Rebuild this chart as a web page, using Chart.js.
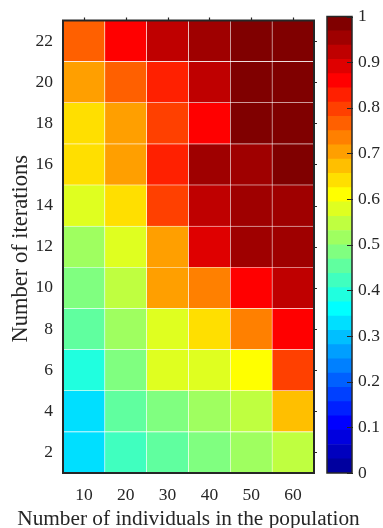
<!DOCTYPE html>
<html><head><meta charset="utf-8">
<script src="https://cdn.jsdelivr.net/npm/chart.js@4.4.0/dist/chart.umd.min.js"></script>
<style>
html,body{margin:0;padding:0;background:#fff;width:383px;height:528px;overflow:hidden}
#main{position:absolute;left:0;top:0}
#cbar{position:absolute;left:318px;top:0}
</style></head><body>
<canvas id="main" width="383" height="528"></canvas>
<canvas id="cbar" width="65" height="528"></canvas>
<script>
// ---- data ----
const populations = [10, 20, 30, 40, 50, 60];
const iterations = [2, 4, 6, 8, 10, 12, 14, 16, 18, 20, 22];
const iter2  = [0.33, 0.42, 0.45, 0.48, 0.52, 0.55];
const iter4  = [0.33, 0.45, 0.48, 0.52, 0.55, 0.67];
const iter6  = [0.39, 0.48, 0.58, 0.58, 0.61, 0.80];
const iter8  = [0.45, 0.52, 0.58, 0.64, 0.73, 0.86];
const iter10 = [0.48, 0.55, 0.70, 0.73, 0.86, 0.92];
const iter12 = [0.52, 0.58, 0.70, 0.89, 0.95, 0.95];
const iter14 = [0.58, 0.64, 0.80, 0.92, 0.95, 0.95];
const iter16 = [0.64, 0.70, 0.83, 0.95, 0.95, 0.98];
const iter18 = [0.64, 0.70, 0.80, 0.86, 0.98, 0.98];
const iter20 = [0.70, 0.77, 0.83, 0.92, 0.98, 0.98];
const iter22 = [0.77, 0.86, 0.92, 0.95, 0.98, 0.98];
const colorbarTicks = [0, 0.1, 0.2, 0.3, 0.4, 0.5, 0.6, 0.7, 0.8, 0.9, 1];
const colorLevels = 32;
const xTitle = 'Number of individuals in the population';
const yTitle = 'Number of iterations';

const rowValues = [iter2, iter4, iter6, iter8, iter10, iter12, iter14, iter16, iter18, iter20, iter22];

// MATLAB-style jet colormap with m levels
function jetMap(m) {
  const n = Math.ceil(m / 4);
  const u = [];
  for (let i = 1; i <= n; i++) u.push(i / n);
  for (let i = 1; i <= n - 1; i++) u.push(1);
  for (let i = n; i >= 1; i--) u.push(i / n);
  const g0 = Math.ceil(n / 2) - (m % 4 === 1 ? 1 : 0);
  const cols = [];
  for (let i = 0; i < m; i++) cols.push([0, 0, 0]);
  for (let k = 0; k < u.length; k++) {
    const g = g0 + k + 1, r = g + n, b = g - n;
    if (g >= 1 && g <= m) cols[g - 1][1] = u[k];
    if (r >= 1 && r <= m) cols[r - 1][0] = u[k];
    if (b >= 1 && b <= m) cols[b - 1][2] = u[k];
  }
  return cols.map(c => `rgb(${Math.round(c[0]*255)},${Math.round(c[1]*255)},${Math.round(c[2]*255)})`);
}
const jet = jetMap(colorLevels);
function colorFor(v) {
  return jet[Math.max(0, Math.min(colorLevels - 1, Math.floor(v * colorLevels)))];
}

const FONT = '"Liberation Serif", "Times New Roman", serif';
const TXT = '#262626';
Chart.defaults.font.family = FONT;

const frameMain = {
  id: 'frameMain',
  afterDraw(chart) {
    const {ctx, chartArea: a, scales} = chart;
    ctx.save();
    ctx.strokeStyle = TXT;
    ctx.lineWidth = 1.2;
    ctx.beginPath();
    populations.forEach((p, i) => {
      const x = Math.round(scales.x.getPixelForValue(i)) + 0.5;
      ctx.moveTo(x, a.top); ctx.lineTo(x, a.top - 3);
    });
    iterations.forEach(v => {
      const y = Math.round(scales.y.getPixelForValue(v)) + 0.5;
      ctx.moveTo(a.right, y); ctx.lineTo(a.right + 3, y);
    });
    ctx.stroke();
    ctx.lineWidth = 2;
    ctx.strokeRect(a.left, a.top, a.right - a.left, a.bottom - a.top);
    // axis titles
    ctx.fillStyle = TXT;
    ctx.textAlign = 'center';
    ctx.textBaseline = 'alphabetic';
    ctx.font = '21.3px ' + FONT;
    ctx.fillText(xTitle, (a.left + a.right) / 2, 525);
    ctx.translate(27, (a.top + a.bottom) / 2 + 2);
    ctx.rotate(-Math.PI / 2);
    ctx.font = '22.5px ' + FONT;
    ctx.fillText(yTitle, 0, 0);
    ctx.restore();
  }
};

const frameBar = {
  id: 'frameBar',
  afterDraw(chart) {
    const {ctx, chartArea: a, scales} = chart;
    ctx.save();
    ctx.strokeStyle = TXT;
    ctx.lineWidth = 1.2;
    ctx.beginPath();
    colorbarTicks.forEach(v => {
      const y = Math.round(scales.y.getPixelForValue(v)) + 0.5;
      ctx.moveTo(a.right - 5, y); ctx.lineTo(a.right + 1, y);
    });
    ctx.stroke();
    ctx.lineWidth = 1.5;
    ctx.strokeRect(a.left, a.top, a.right - a.left, a.bottom - a.top);
    ctx.restore();
  }
};

new Chart(document.getElementById('main'), {
  type: 'bar',
  data: {
    labels: populations.map(String),
    datasets: iterations.map((it, r) => ({
      data: populations.map(() => [it - 1, it + 1]),
      backgroundColor: rowValues[r].map(colorFor),
      borderColor: 'rgba(255,255,255,0.85)',
      borderWidth: 0.6,
      borderSkipped: false,
      barPercentage: 1,
      categoryPercentage: 1,
      grouped: false
    }))
  },
  options: {
    responsive: false,
    animation: false,
    devicePixelRatio: 1,
    layout: {padding: {top: 15, right: 69, left: 0, bottom: 0}},
    plugins: {legend: {display: false}, tooltip: {enabled: false}},
    scales: {
      x: {
        type: 'category',
        offset: true,
        grid: {display: false, drawTicks: false},
        border: {display: false},
        ticks: {font: {size: 17.5}, color: TXT, padding: 12, maxRotation: 0},
        afterFit(s) { s.height = 55; }
      },
      y: {
        type: 'linear',
        min: 1, max: 23,
        afterBuildTicks(s) { s.ticks = iterations.map(v => ({value: v})); },
        grid: {display: false, drawTicks: false},
        border: {display: false},
        ticks: {font: {size: 17.5}, color: TXT, padding: 10},
        afterFit(s) { s.width = 63; }
      }
    }
  },
  plugins: [frameMain]
});

const levels = Array.from({length: colorLevels}, (_, i) => i);
new Chart(document.getElementById('cbar'), {
  type: 'bar',
  data: {
    labels: ['c'],
    datasets: levels.map(i => ({
      data: [[i / colorLevels, (i + 1) / colorLevels]],
      backgroundColor: jet[i],
      borderWidth: 0,
      barPercentage: 1,
      categoryPercentage: 1,
      grouped: false
    }))
  },
  options: {
    responsive: false,
    animation: false,
    devicePixelRatio: 1,
    layout: {padding: {top: 15, left: 9, right: 0, bottom: 55}},
    plugins: {legend: {display: false}, tooltip: {enabled: false}},
    scales: {
      x: {display: false, offset: true},
      y: {
        position: 'right',
        min: 0, max: 1,
        afterBuildTicks(s) { s.ticks = colorbarTicks.map(v => ({value: v})); },
        grid: {display: false, drawTicks: false},
        border: {display: false},
        ticks: {font: {size: 17.5}, color: TXT, padding: 6, callback: v => String(v)},
        afterFit(s) { s.width = 31; }
      }
    }
  },
  plugins: [frameBar]
});
</script>
</body></html>
